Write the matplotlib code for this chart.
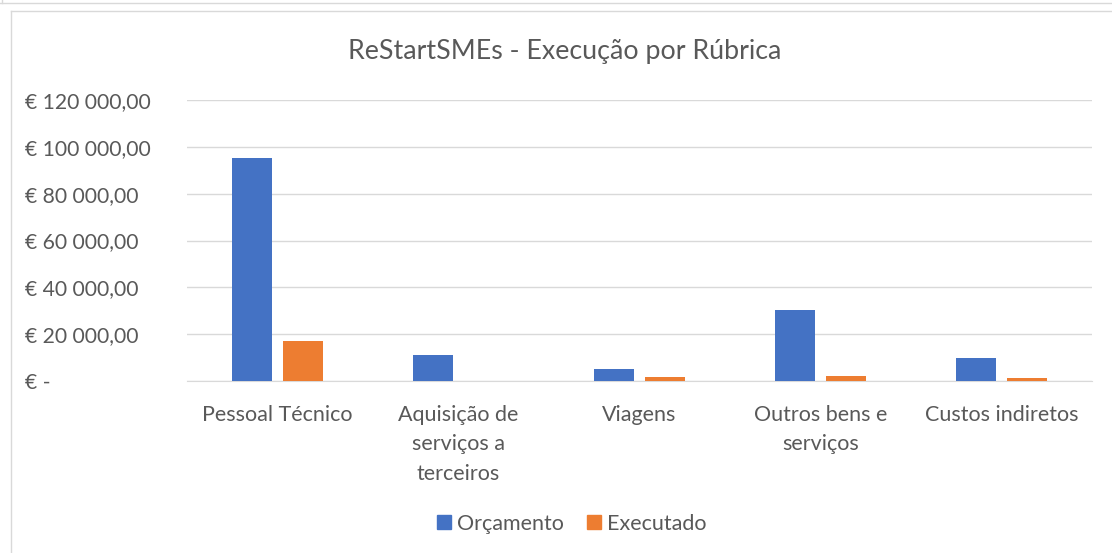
import matplotlib
matplotlib.use("Agg")
import matplotlib.pyplot as plt
from matplotlib.ticker import FuncFormatter, MultipleLocator
from matplotlib.lines import Line2D
import numpy as np

plt.rcParams['font.family'] = ['Lato', 'DejaVu Sans']

title = "ReStartSMEs - Execução por Rúbrica"
categories = ["Pessoal Técnico", "Aquisição de\nserviços a\nterceiros", "Viagens",
              "Outros bens e\nserviços", "Custos indiretos"]
series_names = ["Orçamento", "Executado"]
orcamento = [95300, 11150, 5000, 30300, 9700]
executado = [17150, 0, 1700, 2150, 1150]
colors = ["#4472C4", "#ED7D31"]

W, H = 1112, 553
fig = plt.figure(figsize=(W / 100, H / 100), dpi=100)

# chart borders
fig.add_artist(Line2D([0, 1], [1 - 2.5 / H, 1 - 2.5 / H], color="#D9D9D9", lw=1, transform=fig.transFigure))
fig.add_artist(Line2D([2 / W, 2 / W], [1 - 2.5 / H, 1], color="#D9D9D9", lw=1, transform=fig.transFigure))
fig.add_artist(Line2D([10.5 / W, 1], [1 - 10.5 / H, 1 - 10.5 / H], color="#D9D9D9", lw=1, transform=fig.transFigure))
fig.add_artist(Line2D([10.5 / W, 10.5 / W], [0, 1 - 10.5 / H], color="#D9D9D9", lw=1, transform=fig.transFigure))

left, right = 187 / W, 1092 / W
bottom, top = 1 - 381 / H, 1 - 100 / H
ax = fig.add_axes([left, bottom, right - left, top - bottom])

x = np.arange(len(categories))
bw = 0.22
off = 0.14
ax.bar(x - off, orcamento, width=bw, color=colors[0], label=series_names[0], zorder=3)
ax.bar(x + off, executado, width=bw, color=colors[1], label=series_names[1], zorder=3)

ax.set_xlim(-0.5, len(categories) - 0.5)
ax.set_ylim(0, 120000)
ax.yaxis.set_major_locator(MultipleLocator(20000))


def fmt(v, pos):
    if v == 0:
        return "€ -"
    s = f"{v:,.2f}".replace(",", " ").replace(".", ",")
    return "€ " + s


ax.yaxis.set_major_formatter(FuncFormatter(fmt))
ax.grid(axis="y", color="#D9D9D9", lw=1, zorder=0)
for s in ["top", "right", "left"]:
    ax.spines[s].set_visible(False)
ax.spines["bottom"].set_color("#D9D9D9")
ax.tick_params(axis="y", length=0, labelsize=15.2, labelcolor="#595959")
ax.tick_params(axis="x", length=0, labelsize=15.5, labelcolor="#595959", pad=17)
ax.set_xticks(x)
ax.set_xticklabels(categories, linespacing=1.6)
for t in ax.get_yticklabels():
    t.set_horizontalalignment("left")
ax.yaxis.set_tick_params(pad=(187 - 25) * 0.72)

fig.text(565 / W, 1 - 51 / H, title, ha="center", va="center", fontsize=19.3, color="#595959")

handles = [Line2D([], [], marker="s", linestyle="none", markersize=10, color=c) for c in colors]
fig.legend(handles, series_names, loc="center", bbox_to_anchor=(570 / W, 1 - 524 / H), ncol=2,
           frameon=False, fontsize=15.5, labelcolor="#595959", handletextpad=0.1,
           columnspacing=0.9, handlelength=1.0)

fig.savefig("out.png", dpi=100)
